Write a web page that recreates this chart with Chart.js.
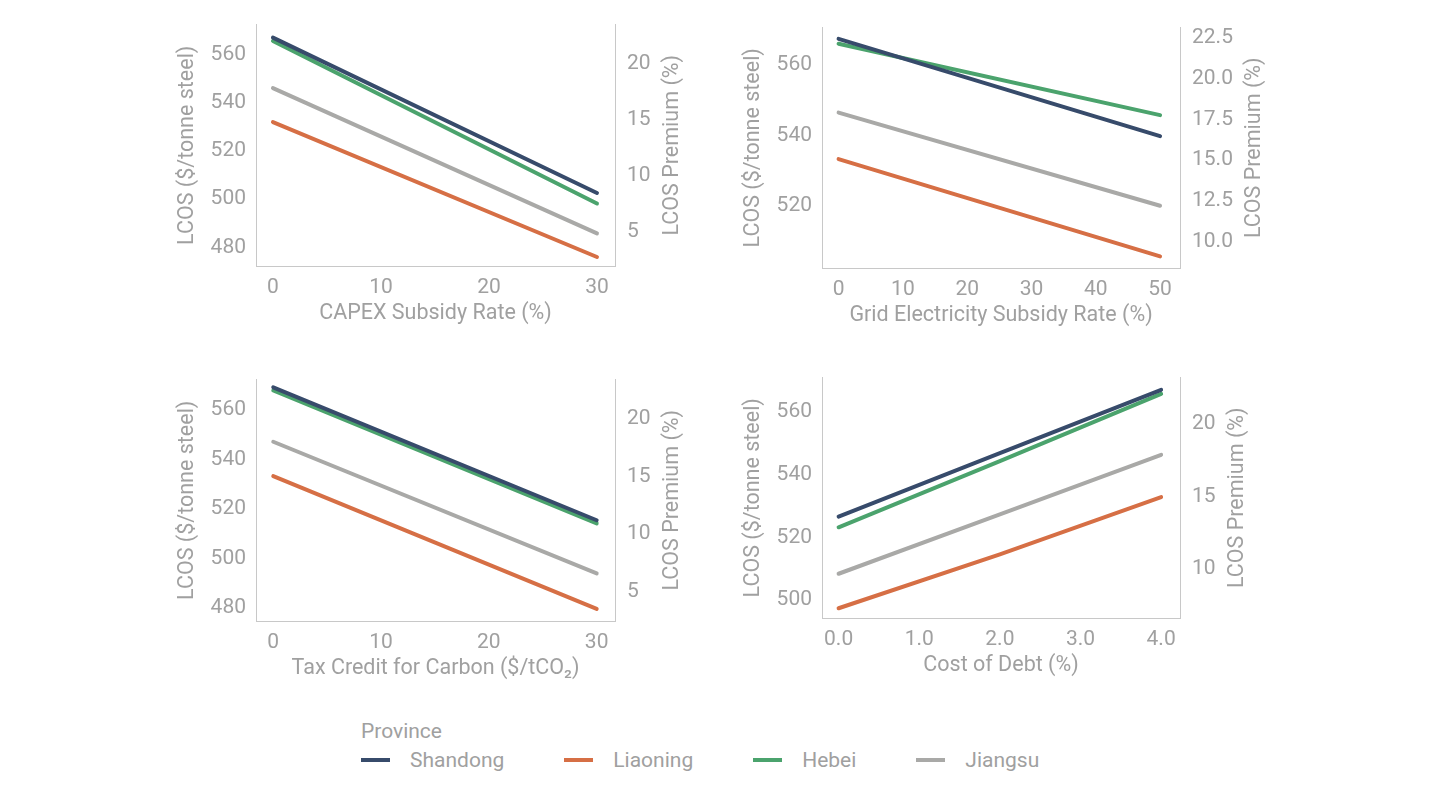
<!DOCTYPE html>
<html>
<head>
<meta charset="utf-8">
<script src="https://cdn.jsdelivr.net/npm/chart.js@4.4.0/dist/chart.umd.min.js"></script>
<style>
  body { margin: 0; width: 1442px; height: 796px; background: #fff; position: relative; overflow: hidden; font-family: Roboto, sans-serif; }
  .panel { position: absolute; }
  #legendTitle { position: absolute; left: 361px; top: 719px; font-size: 21px; line-height: 24px; color: #a0a0a0; }
  #legend { position: absolute; left: 361px; top: 748px; display: flex; align-items: center; font-size: 21px; line-height: 24px; color: #a0a0a0; }
  #legend .item { display: flex; align-items: center; margin-right: 60px; }
  #legend .sw { width: 29px; height: 4px; margin-right: 20px; }
</style>
</head>
<body>
<div class="panel" id="p1"><canvas id="c1"></canvas></div>
<div class="panel" id="p2"><canvas id="c2"></canvas></div>
<div class="panel" id="p3"><canvas id="c3"></canvas></div>
<div class="panel" id="p4"><canvas id="c4"></canvas></div>
<div id="legendTitle">Province</div>
<div id="legend"></div>
<script>
// Provinces (same order in every panel)
var provinces = ["Shandong", "Liaoning", "Hebei", "Jiangsu"];
var colors = ["#374b6b", "#d66f45", "#4ba36d", "#a9a9a7"];

// conventional steel cost used for the premium axis ($/tonne)
var conventionalCost = 463.5;

// CAPEX subsidy rate (%)
var capexX = [0, 30];
var capexShandong = [567.1, 502.6];
var capexLiaoning = [532.0, 476.0];
var capexHebei = [565.7, 498.2];
var capexJiangsu = [546.1, 485.8];

// Grid electricity subsidy rate (%)
var gridX = [0, 50];
var gridShandong = [567.5, 539.8];
var gridLiaoning = [533.3, 505.6];
var gridHebei = [566.1, 545.8];
var gridJiangsu = [546.5, 520.0];

// Tax credit for carbon ($/tCO2)
var taxX = [0, 30];
var taxShandong = [569.1, 515.4];
var taxLiaoning = [533.2, 479.6];
var taxHebei = [567.8, 514.1];
var taxJiangsu = [547.1, 493.9];

// Cost of debt (%)
var debtX = [0, 2, 4];
var debtShandong = [526.6, 546.8, 567.0];
var debtLiaoning = [497.4, 514.6, 532.8];
var debtHebei = [523.2, 544.3, 565.7];
var debtJiangsu = [508.4, 527.3, 546.3];

// tick labels
var capexTicks = [0, 10, 20, 30];
var gridTicks = [0, 10, 20, 30, 40, 50];
var taxTicks = [0, 10, 20, 30];
var debtTicks = [0, 1, 2, 3, 4];
var lcosTicks1 = [480, 500, 520, 540, 560];
var lcosTicks2 = [520, 540, 560];
var lcosTicks3 = [480, 500, 520, 540, 560];
var lcosTicks4 = [500, 520, 540, 560];
var premTicks1 = [5, 10, 15, 20];
var premTicks2 = [10, 12.5, 15, 17.5, 20, 22.5];
var premTicks3 = [5, 10, 15, 20];
var premTicks4 = [10, 15, 20];

var textColor = "#a0a0a0";
var axisColor = "#c8c8c8";
var tickSize = 21;
var titleSize = 21.5;
var leftW = 81, rightW = 100, bottomH = 61, topPad = 20;

var panels = [
  { id: "c1", box: "p1", area: [256, 615, 20, 266], x: capexX,
    series: [capexShandong, capexLiaoning, capexHebei, capexJiangsu],
    xTitle: "CAPEX Subsidy Rate (%)", xRange: [-1.57, 31.67], yRange: [472.26, 572.5],
    xTicks: capexTicks, xDec: 0, yTicks: lcosTicks1, pTicks: premTicks1, pDec: 0 },
  { id: "c2", box: "p2", area: [822, 1180, 23, 268], x: gridX,
    series: [gridShandong, gridLiaoning, gridHebei, gridJiangsu],
    xTitle: "Grid Electricity Subsidy Rate (%)", xRange: [-2.58, 53.1], yRange: [502.3, 570.7],
    xTicks: gridTicks, xDec: 0, yTicks: lcosTicks2, pTicks: premTicks2, pDec: 1 },
  { id: "c3", box: "p3", area: [256, 615, 375, 621], x: taxX,
    series: [taxShandong, taxLiaoning, taxHebei, taxJiangsu],
    xTitle: "Tax Credit for Carbon ($/tCO\u2082)", xRange: [-1.6, 31.7], yRange: [474.7, 572.2],
    xTicks: taxTicks, xDec: 0, yTicks: lcosTicks3, pTicks: premTicks3, pDec: 0 },
  { id: "c4", box: "p4", area: [822, 1180, 373, 618], x: debtX,
    series: [debtShandong, debtLiaoning, debtHebei, debtJiangsu],
    xTitle: "Cost of Debt (%)", xRange: [-0.206, 4.234], yRange: [494.3, 570.9],
    xTicks: debtTicks, xDec: 1, yTicks: lcosTicks4, pTicks: premTicks4, pDec: 0 }
];

function toPremium(v) { return (v / conventionalCost - 1) * 100; }

// right-hand title, drawn reading bottom-to-top like the left one
var rightTitle = {
  id: "rightTitle",
  afterDraw: function (chart, args, opts) {
    var s = chart.scales.y1, ctx = chart.ctx;
    ctx.save();
    ctx.font = tickSize + "px Roboto";
    var widest = 0;
    s.ticks.forEach(function (t) { widest = Math.max(widest, ctx.measureText(t.label).width); });
    var x = s.left + 12 + widest + 22;
    var y = (chart.chartArea.top + chart.chartArea.bottom) / 2;
    ctx.translate(x, y);
    ctx.rotate(-Math.PI / 2);
    ctx.font = titleSize + "px Roboto";
    ctx.fillStyle = textColor;
    ctx.textAlign = "center";
    ctx.textBaseline = "middle";
    ctx.fillText(opts.text, 0, 0);
    ctx.restore();
  }
};

function setTicks(arr) {
  return function (s) { s.ticks = arr.map(function (v) { return { value: v }; }); };
}

panels.forEach(function (p) {
  var L = p.area[0], R = p.area[1], T = p.area[2], B = p.area[3];
  var w = (R - L) + leftW + rightW;
  var h = (B - T) + topPad + bottomH;
  var box = document.getElementById(p.box);
  box.style.left = (L - leftW) + "px";
  box.style.top = (T - topPad) + "px";
  var cv = document.getElementById(p.id);
  cv.width = w; cv.height = h;
  cv.style.width = w + "px"; cv.style.height = h + "px";

  var datasets = provinces.map(function (name, i) {
    return {
      label: name,
      data: p.x.map(function (xv, j) { return { x: xv, y: p.series[i][j] }; }),
      borderColor: colors[i],
      backgroundColor: colors[i],
      borderWidth: 4,
      borderCapStyle: "round",
      pointRadius: 0,
      tension: 0,
      yAxisID: "y"
    };
  });

  new Chart(cv, {
    type: "line",
    data: { datasets: datasets },
    options: {
      responsive: false,
      animation: false,
      layout: { padding: { top: topPad, left: 0, right: 0, bottom: 0 } },
      plugins: { legend: { display: false }, tooltip: { enabled: false }, rightTitle: { text: "LCOS Premium (%)" } },
      scales: {
        x: {
          type: "linear", min: p.xRange[0], max: p.xRange[1],
          grid: { display: false, drawTicks: false },
          border: { display: true, color: axisColor, width: 1 },
          afterBuildTicks: setTicks(p.xTicks),
          afterFit: function (s) { s.height = bottomH; },
          ticks: { color: textColor, padding: 9, font: { family: "Roboto", size: tickSize },
                   maxRotation: 0, callback: function (v) { return v.toFixed(p.xDec); } },
          title: { display: true, text: p.xTitle, color: textColor, padding: 0, font: { family: "Roboto", size: titleSize } }
        },
        y: {
          position: "left", min: p.yRange[0], max: p.yRange[1],
          grid: { display: false, drawTicks: false },
          border: { display: true, color: axisColor, width: 1 },
          afterBuildTicks: setTicks(p.yTicks),
          afterFit: function (s) { s.width = leftW; },
          ticks: { color: textColor, padding: 10, font: { family: "Roboto", size: tickSize },
                   callback: function (v) { return v.toFixed(0); } },
          title: { display: true, text: "LCOS ($/tonne steel)", color: textColor, padding: 0, font: { family: "Roboto", size: titleSize } }
        },
        y1: {
          position: "right", min: toPremium(p.yRange[0]), max: toPremium(p.yRange[1]),
          grid: { display: false, drawTicks: false },
          border: { display: true, color: axisColor, width: 1 },
          afterBuildTicks: setTicks(p.pTicks),
          afterFit: function (s) { s.width = rightW; },
          ticks: { color: textColor, padding: 12, font: { family: "Roboto", size: tickSize },
                   callback: function (v) { return v.toFixed(p.pDec); } }
        }
      }
    },
    plugins: [rightTitle]
  });
});

// legend built from the same province list
var lg = document.getElementById("legend");
provinces.forEach(function (name, i) {
  var item = document.createElement("div");
  item.className = "item";
  var sw = document.createElement("span");
  sw.className = "sw";
  sw.style.background = colors[i];
  var tx = document.createElement("span");
  tx.textContent = name;
  item.appendChild(sw);
  item.appendChild(tx);
  lg.appendChild(item);
});
</script>
</body>
</html>
